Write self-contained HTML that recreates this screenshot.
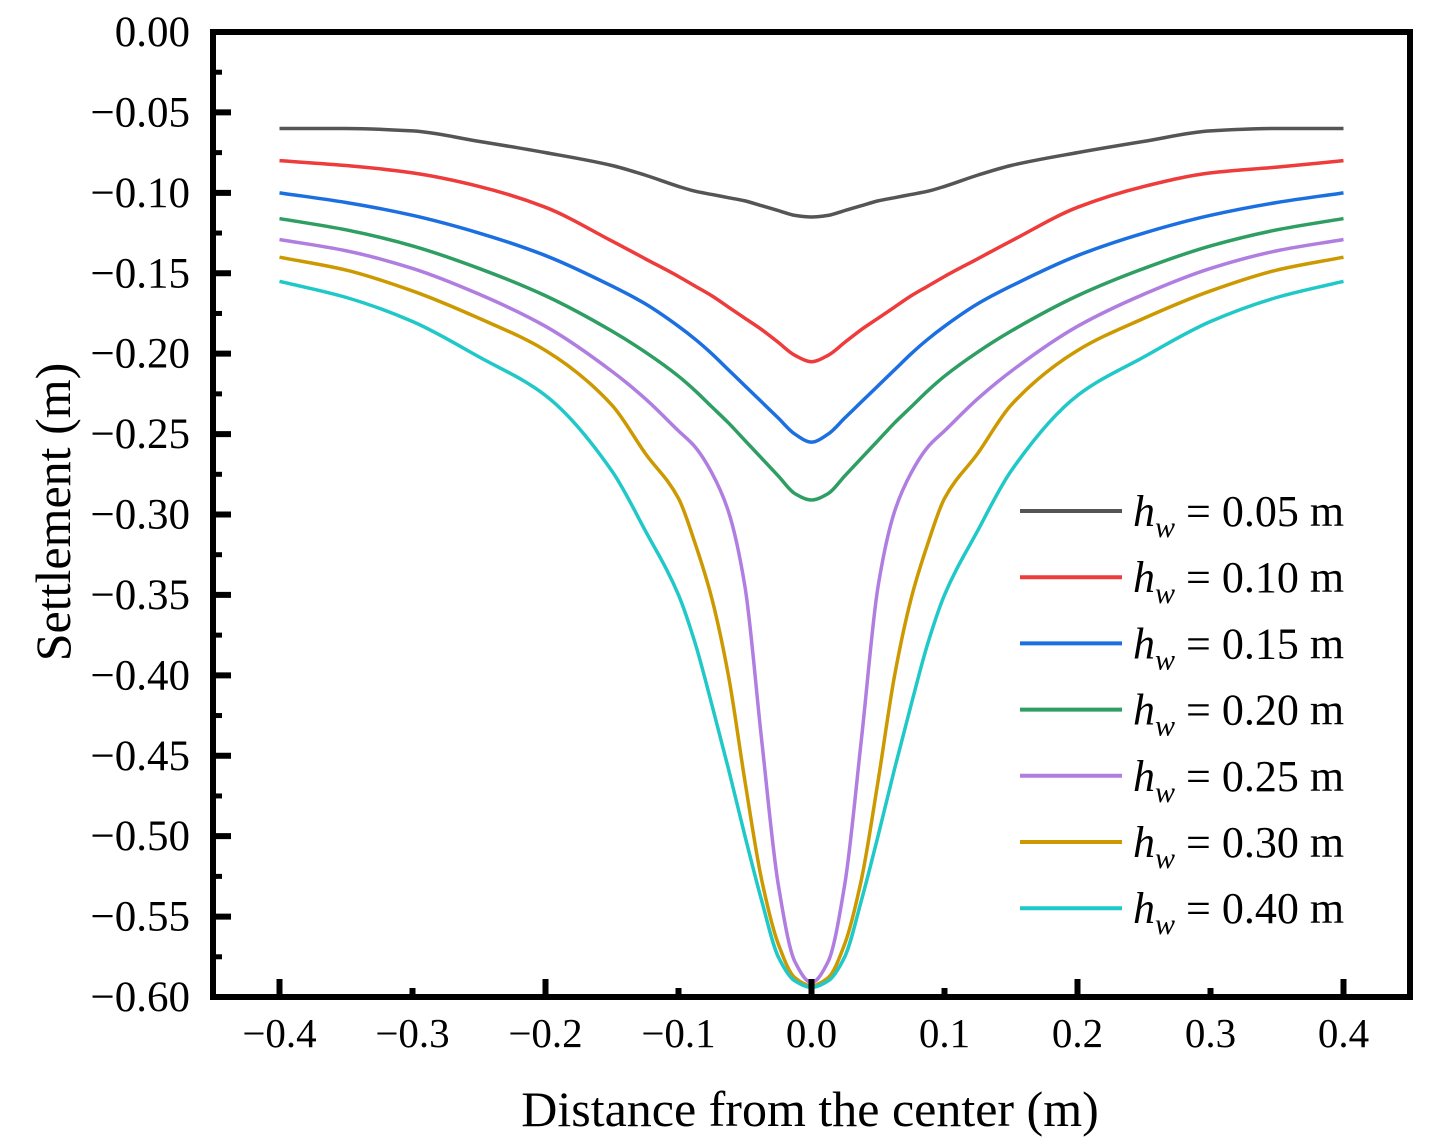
<!DOCTYPE html>
<html><head><meta charset="utf-8"><style>
body{margin:0;background:#fff;}
svg{display:block;font-family:"Liberation Serif",serif;}
</style></head><body>
<svg id="chart" width="1437" height="1148" viewBox="0 0 1437 1148" xmlns="http://www.w3.org/2000/svg">
</svg>
<script>
const xValues = [-0.4,-0.35,-0.3,-0.25,-0.2,-0.15,-0.125,-0.1,-0.0875,-0.075,-0.0625,-0.05,-0.0375,-0.025,-0.0125,0,0.0125,0.025,0.0375,0.05,0.0625,0.075,0.0875,0.1,0.125,0.15,0.2,0.25,0.3,0.35,0.4];
const seriesLabels = ["0.05","0.10","0.15","0.20","0.25","0.30","0.40"];
const seriesColors = ["#555555","#ee3b3b","#1c6fe0","#2e9e62","#b07de0","#cc9900","#20c8c8"];
const s005 = [-0.060,-0.060,-0.0615,-0.068,-0.075,-0.083,-0.089,-0.096,-0.099,-0.101,-0.103,-0.105,-0.108,-0.111,-0.114,-0.115,-0.114,-0.111,-0.108,-0.105,-0.103,-0.101,-0.099,-0.096,-0.089,-0.083,-0.075,-0.068,-0.0615,-0.060,-0.060];
const s010 = [-0.080,-0.083,-0.0876,-0.096,-0.109,-0.130,-0.141,-0.152,-0.158,-0.164,-0.171,-0.178,-0.185,-0.193,-0.201,-0.205,-0.201,-0.193,-0.185,-0.178,-0.171,-0.164,-0.158,-0.152,-0.141,-0.130,-0.109,-0.096,-0.0876,-0.084,-0.080];
const s015 = [-0.100,-0.106,-0.114,-0.125,-0.139,-0.158,-0.169,-0.183,-0.191,-0.200,-0.210,-0.220,-0.230,-0.240,-0.250,-0.255,-0.250,-0.240,-0.230,-0.220,-0.210,-0.200,-0.191,-0.183,-0.169,-0.158,-0.139,-0.125,-0.114,-0.106,-0.100];
const s020 = [-0.116,-0.123,-0.133,-0.147,-0.164,-0.186,-0.199,-0.214,-0.223,-0.233,-0.243,-0.254,-0.265,-0.276,-0.287,-0.291,-0.287,-0.276,-0.265,-0.254,-0.243,-0.233,-0.223,-0.214,-0.199,-0.186,-0.164,-0.147,-0.133,-0.123,-0.116];
const s025 = [-0.129,-0.136,-0.147,-0.163,-0.183,-0.211,-0.228,-0.248,-0.258,-0.274,-0.298,-0.345,-0.440,-0.530,-0.578,-0.591,-0.578,-0.530,-0.440,-0.345,-0.298,-0.274,-0.258,-0.248,-0.228,-0.211,-0.183,-0.163,-0.147,-0.136,-0.129];
const s030 = [-0.140,-0.148,-0.161,-0.178,-0.198,-0.232,-0.262,-0.290,-0.318,-0.352,-0.400,-0.466,-0.527,-0.567,-0.588,-0.593,-0.588,-0.567,-0.527,-0.466,-0.400,-0.352,-0.318,-0.290,-0.262,-0.232,-0.198,-0.178,-0.161,-0.148,-0.140];
const s040 = [-0.155,-0.165,-0.180,-0.202,-0.226,-0.273,-0.310,-0.350,-0.380,-0.418,-0.458,-0.500,-0.540,-0.575,-0.590,-0.594,-0.590,-0.575,-0.540,-0.500,-0.458,-0.418,-0.380,-0.350,-0.310,-0.273,-0.226,-0.202,-0.180,-0.165,-0.155];
const allSeries = [s005,s010,s015,s020,s025,s030,s040];
const yTickLabels = ["0.00","\u22120.05","\u22120.10","\u22120.15","\u22120.20","\u22120.25","\u22120.30","\u22120.35","\u22120.40","\u22120.45","\u22120.50","\u22120.55","\u22120.60"];
const xTickLabels = ["\u22120.4","\u22120.3","\u22120.2","\u22120.1","0.0","0.1","0.2","0.3","0.4"];

const L=213,R=1410,T=32,B=997;
const xMin=-0.45,xMax=0.45,yMin=-0.6,yMax=0;
const sx=v=>L+(v-xMin)/(xMax-xMin)*(R-L);
const sy=v=>T+(yMax-v)/(yMax-yMin)*(B-T);
const svg=document.getElementById('chart');
const NS="http://www.w3.org/2000/svg";
function mk(tag,attrs){const e=document.createElementNS(NS,tag);for(const k in attrs)e.setAttribute(k,attrs[k]);svg.appendChild(e);return e;}

function monotonePath(pts){
  const n=pts.length, dx=[], m=[], t=new Array(n);
  for(let i=0;i<n-1;i++){dx.push(pts[i+1][0]-pts[i][0]);m.push((pts[i+1][1]-pts[i][1])/dx[i]);}
  t[0]=m[0]; t[n-1]=m[n-2];
  for(let i=1;i<n-1;i++){
    if(m[i-1]*m[i]<=0)t[i]=0;
    else{const w1=2*dx[i]+dx[i-1],w2=dx[i]+2*dx[i-1];t[i]=(w1+w2)/(w1/m[i-1]+w2/m[i]);}
  }
  let d="M"+pts[0][0]+","+pts[0][1];
  for(let i=0;i<n-1;i++){
    const h=dx[i]/3;
    d+=` C${pts[i][0]+h},${pts[i][1]+t[i]*h} ${pts[i+1][0]-h},${pts[i+1][1]-t[i+1]*h} ${pts[i+1][0]},${pts[i+1][1]}`;
  }
  return d;
}

allSeries.forEach((vals,si)=>{
  const pts=xValues.map((x,i)=>[sx(x),sy(vals[i])]);
  const p=mk('path',{d:monotonePath(pts),fill:'none',stroke:seriesColors[si],'stroke-width':3.5,'stroke-linejoin':'round'});
  
  
});

const fr=mk('rect',{x:L,y:T,width:R-L,height:B-T,fill:'none',stroke:'#000','stroke-width':6});



yTickLabels.forEach((lab,i)=>{
  const v=-0.05*i, y=sy(v);
  mk('line',{x1:L,x2:L+18,y1:y,y2:y,stroke:'#000','stroke-width':6});
  if(i<yTickLabels.length-1){const ym=sy(v-0.025);mk('line',{x1:L,x2:L+9,y1:ym,y2:ym,stroke:'#000','stroke-width':5});}
  const t=mk('text',{x:190,y:y+14,'text-anchor':'end','font-size':43});
  t.textContent=lab;
  
  
});
xTickLabels.forEach((lab,i)=>{
  const v=-0.4+0.1*i, x=sx(v);
  const major=(i%2===0);
  mk('line',{x1:x,x2:x,y1:B,y2:B-(major?18:9),stroke:'#000','stroke-width':6});
  const t=mk('text',{x:x,y:1047,'text-anchor':'middle','font-size':41});
  t.textContent=lab;
  
  
});
const xt=mk('text',{x:810,y:1126,'text-anchor':'middle','font-size':50});
xt.textContent="Distance from the center (m)";


const yt=mk('text',{x:0,y:0,'text-anchor':'middle','font-size':50,transform:'translate(70,512) rotate(-90)'});
yt.textContent="Settlement (m)";



seriesLabels.forEach((lab,i)=>{
  const y=511+i*66.2;
  const g=document.createElementNS(NS,'g');
  
  
  svg.appendChild(g);
  const ln=document.createElementNS(NS,'line');
  ln.setAttribute('x1',1020);ln.setAttribute('x2',1122);ln.setAttribute('y1',y);ln.setAttribute('y2',y);
  ln.setAttribute('stroke',seriesColors[i]);ln.setAttribute('stroke-width',4);
  g.appendChild(ln);
  const t=document.createElementNS(NS,'text');
  t.setAttribute('x',1133);t.setAttribute('y',y+15);t.setAttribute('font-size',44);
  t.innerHTML='<tspan font-style="italic">h</tspan><tspan font-style="italic" font-size="30" dy="11">w</tspan><tspan dy="-11"> = '+lab+' m</tspan>';
  g.appendChild(t);
});
</script>
</body></html>
